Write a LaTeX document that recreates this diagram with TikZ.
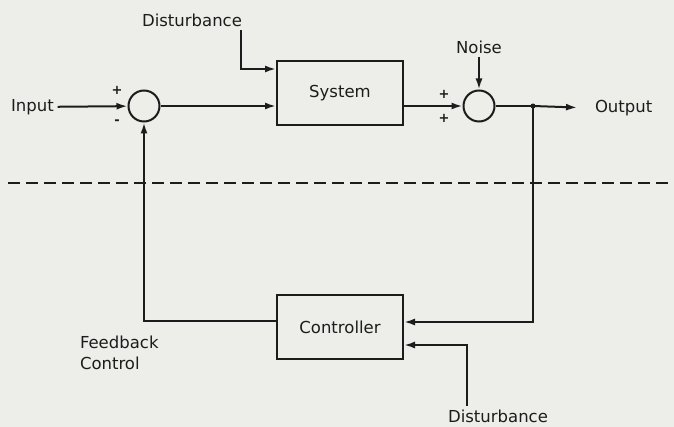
\documentclass[tikz,border=0pt]{standalone}
\usepackage{fontspec}
\setmainfont{DejaVu Sans}
\usetikzlibrary{arrows.meta,positioning}
\definecolor{paper}{HTML}{EDEDEA}
\definecolor{ink}{HTML}{1C1C1C}

\begin{document}
\begin{tikzpicture}[x=1pt, y=-1pt, line width=2pt, draw=ink, text=ink,
  block/.style={draw, minimum width=126pt, minimum height=64pt, font=\fontsize{16.5}{18}\selectfont},
  sumnode/.style={draw, circle, minimum size=31pt, inner sep=0pt},
  lbl/.style={font=\fontsize{16.5}{21}\selectfont, inner sep=3pt},
  sgn/.style={font=\fontsize{13}{13}\selectfont\bfseries, inner sep=0pt},
  sig/.style={-{Latex[length=11pt,width=7pt]}}]
\useasboundingbox (0,0) rectangle (674,427);
\fill[paper] (0,0) rectangle (674,427);

% forward path
\node[sumnode] (sum1) at (144,106) {};
\node[block] (sys) at (340,93) {System};
\node[sumnode] (sum2) at (479,106) {};
\coordinate (tap) at (533,106);

% feedback path
\node[block] (ctrl) at (340,327) {Controller};

% labels
\node[lbl, anchor=west] (in) at (7,107) {Input};
\node[lbl, anchor=west] (out) at (591,108) {Output};
\node[lbl] (distA) at (192,20) {Disturbance};
\node[lbl] (noise) at (479,47) {Noise};
\node[lbl] (distB) at (498,416) {Disturbance};
\node[lbl, align=left, anchor=north west] (fb) at (76,332) {Feedback\\Control};

% signs at the summing points
\node[sgn] (s1p) at (117,90) {+};
\node[sgn] (s1m) at (117,122) {-};
\node[sgn] (s2a) at (444,94) {+};
\node[sgn] (s2b) at (444,118) {+};

% connectors
\draw[sig] (in) -- (sum1);
\draw[sig] (sum1) -- (sum1 -| sys.west);
\draw[sig] ([xshift=-5pt]distA.south east) |- ([yshift=24pt]sys.west);
\draw[sig] (sys.east |- sum2) -- (sum2);
\draw[sig] (noise) -- (sum2);
\draw (sum2) -- (tap);
\draw[sig, shorten >=14pt] (tap) -- (out.west);
\fill[ink] (tap) circle (2.5pt);
\draw[sig] (tap) |- ([yshift=5pt]ctrl.east);
\draw[sig] ([xshift=-31pt]distB.north) |- ([yshift=-18pt]ctrl.east);
\draw[sig] ([yshift=6pt]ctrl.west) -| (sum1);

% boundary
\draw[dash pattern=on 12pt off 6pt] (8,183) -- (674,183);
\end{tikzpicture}
\end{document}
